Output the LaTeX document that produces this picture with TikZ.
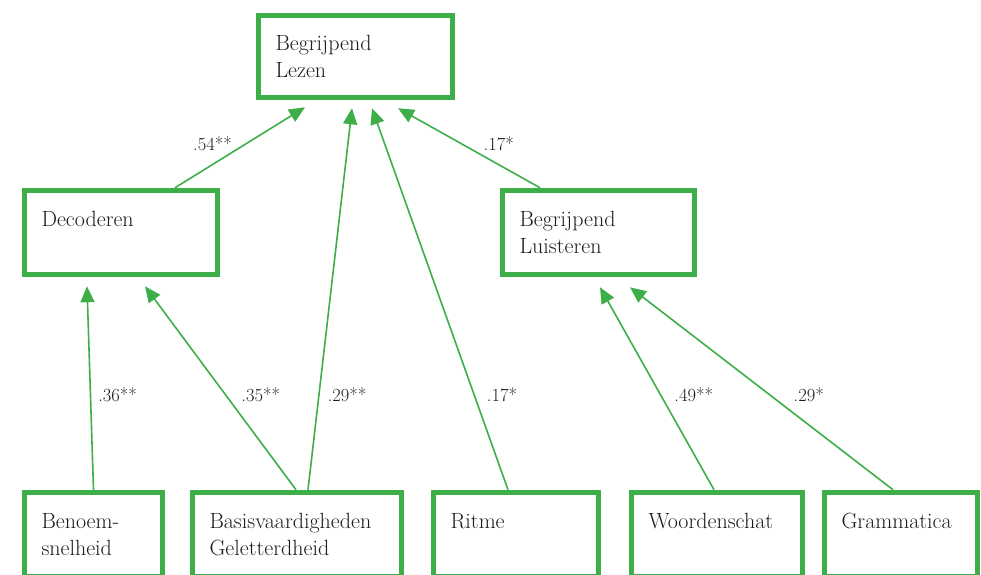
\documentclass[tikz,border=0pt]{standalone}
\usetikzlibrary{arrows.meta}
\definecolor{boxgreen}{RGB}{62,174,73}
\definecolor{txtgray}{RGB}{30,27,28}
\tikzset{
  box/.style={draw=boxgreen, line width=5.5pt, align=left, inner xsep=17pt, inner ysep=0pt,
    minimum height=84pt, text=txtgray, font=\fontsize{22}{27}\selectfont},
  pijl/.style={draw=boxgreen, line width=1.6pt, -{Triangle[length=16pt,width=14pt]}},
  coef/.style={text=txtgray, inner sep=0pt, font=\fontsize{18.5}{20}\selectfont}
}
\begin{document}
\begin{tikzpicture}[x=1pt,y=-1pt]
  \clip (0,0) rectangle (981,574);

  % top
  \node[box, text width=160pt, minimum height=82pt] (lezen) at (355.5,56.5) {Begrijpend\\Lezen};

  % middle row
  \node[box, text width=159pt] (decod) at (121,232.5) {Decoderen\\~};
  \node[box, text width=158pt] (luist) at (598.5,232.5) {Begrijpend\\Luisteren};

  % bottom row
  \node[box, text width=104pt] (benoem) at (93.5,534.5) {Benoem-\\snelheid};
  \node[box, text width=175pt] (basis) at (297,534.5) {Basisvaardigheden\\Geletterdheid};
  \node[box, text width=131pt] (ritme) at (516,534.5) {Ritme\\~};
  \node[box, text width=137pt] (woord) at (717,534.5) {Woordenschat\\~};
  \node[box, text width=119pt] (gramm) at (901,534.5) {Grammatica\\~};

  % paths to Begrijpend Lezen
  \draw[pijl] ([xshift=54pt]decod.north) -- ([xshift=-50.5pt,yshift=-7pt]lezen.south)
    node[coef, pos=.543, left=13pt] {.54**};
  \draw[pijl] ([xshift=11pt]basis.north) -- ([xshift=-3.5pt,yshift=-8pt]lezen.south)
    node[coef, pos=.249, right=8pt] {.29**};
  \draw[pijl] ([xshift=-8pt]ritme.north) -- ([xshift=16.5pt,yshift=-8pt]lezen.south)
    node[coef, pos=.249, right=12pt] {.17*};
  \draw[pijl] ([xshift=-58.5pt]luist.north) -- ([xshift=42.5pt,yshift=-8pt]lezen.south)
    node[coef, pos=.55, right=21pt] {.17*};

  % paths to Decoderen
  \draw[pijl] (benoem.north) -- ([xshift=-34pt,yshift=-9pt]decod.south)
    node[coef, pos=.466, right=7pt] {.36**};
  \draw[pijl] ([xshift=-1pt]basis.north) -- ([xshift=24pt,yshift=-9pt]decod.south)
    node[coef, pos=.466, right=15pt] {.35**};

  % paths to Begrijpend Luisteren
  \draw[pijl] ([xshift=-3pt]woord.north) -- ([xshift=1.5pt,yshift=-10pt]luist.south)
    node[coef, pos=.468, right=13pt] {.49**};
  \draw[pijl] ([xshift=-8pt]gramm.north) -- ([xshift=31.5pt,yshift=-10pt]luist.south)
    node[coef, pos=.468, right=23pt] {.29*};
\end{tikzpicture}
\end{document}
